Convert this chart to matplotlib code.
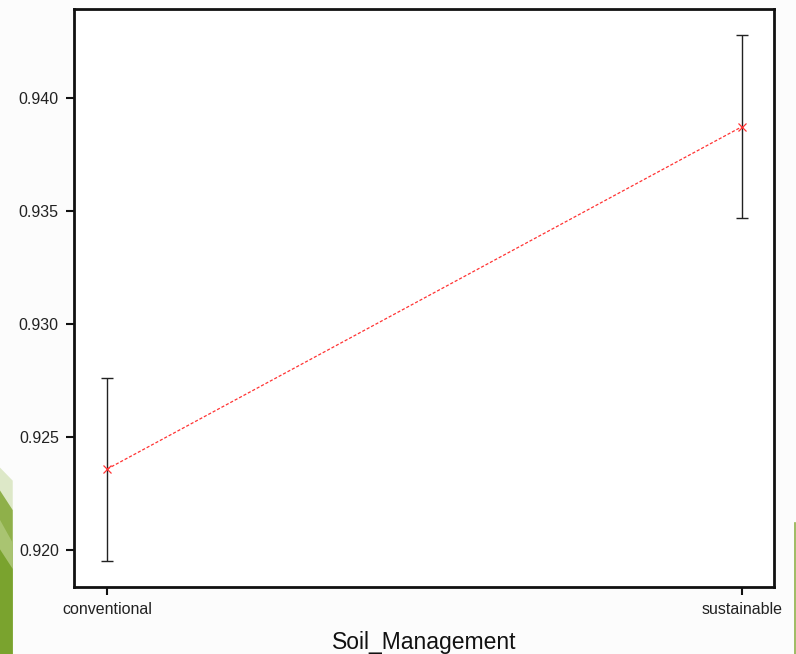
import matplotlib
matplotlib.use("Agg")
import matplotlib.pyplot as plt
from matplotlib.patches import Polygon

# datos
categorias = ['conventional', 'sustainable']
medias = [0.92358, 0.93874]
error = [0.00405, 0.00405]
yticks = [0.920, 0.925, 0.930, 0.935, 0.940]

plt.rcParams['font.family'] = ['Liberation Sans', 'DejaVu Sans']

fig = plt.figure(figsize=(7.96, 6.54), dpi=100)
fig.patch.set_facecolor('#fcfcfc')

# decoracion verde de la diapositiva (abajo a la izquierda)
franjas = [
    ([(0, 0.285), (0.016, 0.265), (0.016, 0.0), (0, 0.0)], '#dde8c8'),
    ([(0, 0.25), (0.016, 0.22), (0.016, 0.0), (0, 0.0)], '#8fb04a'),
    ([(0, 0.205), (0.016, 0.17), (0.016, 0.0), (0, 0.0)], '#a9c471'),
    ([(0, 0.16), (0.016, 0.13), (0.016, 0.0), (0, 0.0)], '#7aa32e'),
]
for pts, col in franjas:
    fig.patches.append(Polygon(pts, closed=True, transform=fig.transFigure,
                               facecolor=col, edgecolor='none', zorder=0))
fig.add_artist(plt.Line2D([0.9985, 0.9985], [0.0, 0.2], transform=fig.transFigure,
                          color='#8fb04a', lw=1.2))

ax = fig.add_axes([0.093, 0.1024, 0.8794, 0.8838])
ax.set_facecolor('white')

x = list(range(len(categorias)))
ax.errorbar(x, medias, yerr=error, fmt='none', ecolor='#222222', elinewidth=1.0,
            capsize=4, capthick=1.0)
ax.plot(x, medias, color='#ff3333', linestyle=(0, (2.5, 1.5)), linewidth=0.9,
        marker='x', markersize=6, markeredgewidth=0.9)

ax.set_xlim(-0.052, 1.05)
ax.set_ylim(0.91836, 0.94394)
ax.set_xticks(x)
ax.set_xticklabels(categorias, fontsize=11.5, color='#222222')
ax.set_yticks(yticks)
ax.set_yticklabels([f'{v:.3f}' for v in yticks], fontsize=11.5, color='#222222')
ax.tick_params(axis='both', direction='out', length=6, width=1.5, color='#111111')
ax.tick_params(axis='x', pad=5)
ax.tick_params(axis='y', pad=5)
for s in ax.spines.values():
    s.set_linewidth(2)
    s.set_color('#111111')

ax.set_xlabel('Soil_Management', fontsize=16.5, color='#111111', labelpad=10)

fig.savefig('out.png', dpi=100, facecolor=fig.get_facecolor())
